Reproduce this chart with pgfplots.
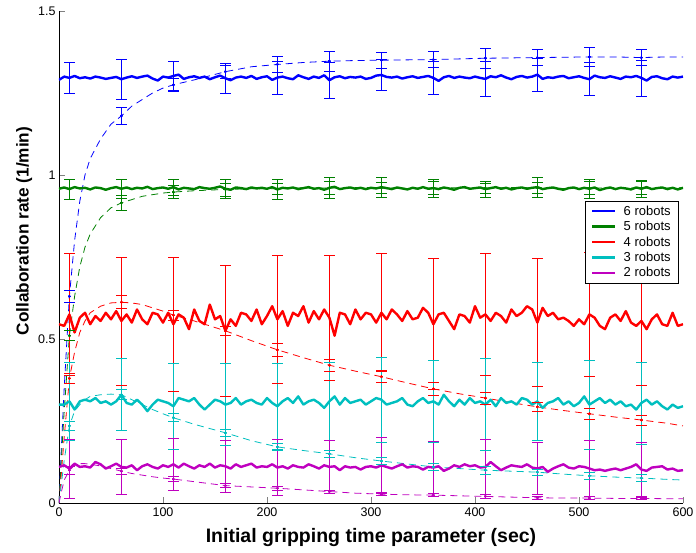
\documentclass[border=0pt]{standalone}
\usepackage{fontspec}
\setmainfont{Liberation Sans}
\usepackage{pgfplots}
\usepackage{pgfplotstable}
\pgfplotsset{compat=1.18}

\definecolor{mblue}{rgb}{0,0,1}
\definecolor{mgreen}{rgb}{0,0.5,0}
\definecolor{mred}{rgb}{1,0,0}
\definecolor{mcyan}{rgb}{0,0.75,0.75}
\definecolor{mmag}{rgb}{0.75,0,0.75}

% measured collaboration rate (solid curves), columns: 6,5,4,3,2 robots
\pgfplotstableread{
x   b     g     r     c     m
0   1.290 0.958 0.545 0.300 0.110
5   1.300 0.962 0.540 0.300 0.115
10  1.296 0.957 0.575 0.310 0.105
15  1.302 0.963 0.520 0.285 0.120
20  1.295 0.959 0.565 0.310 0.110
25  1.298 0.961 0.580 0.315 0.112
30  1.294 0.956 0.545 0.310 0.108
35  1.300 0.962 0.570 0.320 0.125
40  1.297 0.960 0.555 0.305 0.118
45  1.293 0.955 0.580 0.310 0.105
50  1.296 0.960 0.560 0.300 0.112
55  1.299 0.963 0.585 0.310 0.120
60  1.292 0.958 0.555 0.330 0.110
65  1.297 0.962 0.575 0.305 0.108
70  1.301 0.957 0.550 0.300 0.115
75  1.296 0.961 0.590 0.315 0.100
80  1.300 0.959 0.560 0.300 0.112
85  1.303 0.964 0.545 0.280 0.118
90  1.294 0.957 0.580 0.300 0.110
95  1.288 0.960 0.575 0.315 0.105
100 1.300 0.962 0.550 0.310 0.115
105 1.297 0.958 0.580 0.305 0.110
110 1.302 0.963 0.545 0.295 0.118
115 1.306 0.956 0.575 0.320 0.108
120 1.293 0.961 0.565 0.315 0.120
125 1.298 0.959 0.530 0.310 0.112
130 1.301 0.957 0.590 0.320 0.105
135 1.296 0.963 0.555 0.300 0.115
140 1.300 0.960 0.545 0.285 0.110
145 1.292 0.958 0.605 0.300 0.120
150 1.298 0.961 0.560 0.315 0.108
155 1.303 0.965 0.570 0.310 0.115
160 1.295 0.958 0.525 0.300 0.112
165 1.289 0.955 0.560 0.305 0.105
170 1.297 0.962 0.540 0.320 0.118
175 1.300 0.960 0.580 0.300 0.110
180 1.296 0.957 0.575 0.310 0.115
185 1.302 0.962 0.555 0.315 0.120
190 1.293 0.959 0.590 0.305 0.108
195 1.298 0.961 0.545 0.300 0.112
200 1.301 0.958 0.570 0.320 0.110
205 1.290 0.963 0.600 0.305 0.118
210 1.297 0.956 0.560 0.295 0.108
215 1.300 0.961 0.585 0.310 0.112
220 1.295 0.959 0.540 0.320 0.105
225 1.292 0.962 0.580 0.305 0.115
230 1.304 0.957 0.570 0.325 0.110
235 1.298 0.960 0.600 0.300 0.108
240 1.293 0.963 0.550 0.310 0.118
245 1.300 0.958 0.585 0.315 0.112
250 1.296 0.960 0.560 0.305 0.105
255 1.304 0.955 0.590 0.290 0.115
260 1.289 0.961 0.565 0.310 0.110
265 1.298 0.964 0.510 0.325 0.112
270 1.301 0.957 0.580 0.300 0.100
275 1.295 0.960 0.575 0.320 0.112
280 1.299 0.962 0.545 0.305 0.108
285 1.297 0.958 0.590 0.310 0.110
290 1.300 0.961 0.560 0.315 0.102
295 1.293 0.957 0.580 0.300 0.110
300 1.296 0.961 0.575 0.310 0.112
305 1.303 0.959 0.550 0.320 0.108
310 1.305 0.963 0.580 0.315 0.115
315 1.299 0.960 0.560 0.300 0.110
320 1.297 0.957 0.590 0.305 0.105
325 1.300 0.962 0.575 0.310 0.112
330 1.294 0.959 0.555 0.320 0.118
335 1.298 0.956 0.585 0.300 0.108
340 1.301 0.961 0.560 0.295 0.112
345 1.296 0.958 0.565 0.310 0.110
350 1.299 0.963 0.595 0.320 0.102
355 1.302 0.958 0.580 0.305 0.110
360 1.296 0.960 0.545 0.310 0.108
365 1.287 0.957 0.575 0.300 0.112
370 1.298 0.962 0.580 0.330 0.098
375 1.302 0.959 0.555 0.310 0.105
380 1.296 0.955 0.530 0.295 0.115
385 1.300 0.961 0.575 0.315 0.110
390 1.297 0.963 0.570 0.300 0.118
395 1.295 0.958 0.550 0.320 0.112
400 1.300 0.960 0.600 0.305 0.115
405 1.296 0.962 0.565 0.310 0.108
410 1.293 0.957 0.575 0.300 0.110
415 1.301 0.960 0.555 0.315 0.125
420 1.298 0.963 0.580 0.295 0.112
425 1.304 0.958 0.570 0.320 0.100
430 1.297 0.961 0.550 0.305 0.108
435 1.292 0.956 0.590 0.310 0.115
440 1.299 0.960 0.570 0.300 0.112
445 1.302 0.962 0.580 0.320 0.110
450 1.297 0.958 0.600 0.315 0.118
455 1.300 0.961 0.590 0.300 0.108
460 1.306 0.963 0.550 0.310 0.105
465 1.293 0.957 0.595 0.290 0.110
470 1.298 0.960 0.570 0.305 0.095
475 1.296 0.962 0.580 0.310 0.105
480 1.300 0.958 0.560 0.320 0.112
485 1.302 0.955 0.565 0.300 0.118
490 1.295 0.960 0.555 0.310 0.108
495 1.298 0.962 0.540 0.295 0.105
500 1.301 0.957 0.560 0.305 0.112
505 1.296 0.961 0.545 0.325 0.110
510 1.292 0.958 0.575 0.300 0.105
515 1.303 0.962 0.565 0.310 0.100
520 1.298 0.954 0.540 0.320 0.102
525 1.296 0.959 0.530 0.305 0.098
530 1.301 0.962 0.565 0.315 0.102
535 1.297 0.957 0.575 0.300 0.105
540 1.293 0.961 0.555 0.310 0.100
545 1.300 0.959 0.585 0.295 0.105
550 1.298 0.956 0.550 0.300 0.110
555 1.302 0.962 0.540 0.285 0.118
560 1.296 0.958 0.555 0.305 0.102
565 1.288 0.963 0.530 0.315 0.098
570 1.299 0.957 0.560 0.300 0.108
575 1.301 0.960 0.575 0.310 0.110
580 1.295 0.962 0.545 0.295 0.112
585 1.292 0.957 0.540 0.285 0.102
590 1.300 0.961 0.580 0.300 0.105
595 1.297 0.956 0.540 0.290 0.098
600 1.300 0.961 0.545 0.295 0.100
}\measured

% mean and standard deviation of the measured rate; each sample point is
% listed for its lower end (s=-1), its upper end (s=1) and a break (s=nan)
\pgfplotstableread{
x   s   b     be    g     ge    r     re    c     ce    m     me
10  -1  1.296 0.046 0.957 0.030 0.575 0.185 0.310 0.120 0.105 0.090
10  1   1.296 0.046 0.957 0.030 0.575 0.185 0.310 0.120 0.105 0.090
10  nan 1.296 0.046 0.957 0.030 0.575 0.185 0.310 0.120 0.105 0.090
60  -1  1.292 0.060 0.958 0.030 0.555 0.195 0.330 0.110 0.110 0.085
60  1   1.292 0.060 0.958 0.030 0.555 0.195 0.330 0.110 0.110 0.085
60  nan 1.292 0.060 0.958 0.030 0.555 0.195 0.330 0.110 0.110 0.085
110 -1  1.302 0.045 0.963 0.025 0.545 0.205 0.295 0.130 0.118 0.080
110 1   1.302 0.045 0.963 0.025 0.545 0.205 0.295 0.130 0.118 0.080
110 nan 1.302 0.045 0.963 0.025 0.545 0.205 0.295 0.130 0.118 0.080
160 -1  1.295 0.045 0.958 0.028 0.525 0.200 0.300 0.125 0.112 0.080
160 1   1.295 0.045 0.958 0.028 0.525 0.200 0.300 0.125 0.112 0.080
160 nan 1.295 0.045 0.958 0.028 0.525 0.200 0.300 0.125 0.112 0.080
210 -1  1.297 0.050 0.956 0.030 0.560 0.195 0.295 0.130 0.108 0.085
210 1   1.297 0.050 0.956 0.030 0.560 0.195 0.295 0.130 0.108 0.085
210 nan 1.297 0.050 0.956 0.030 0.560 0.195 0.295 0.130 0.108 0.085
260 -1  1.289 0.055 0.961 0.032 0.565 0.190 0.310 0.120 0.110 0.080
260 1   1.289 0.055 0.961 0.032 0.565 0.190 0.310 0.120 0.110 0.080
260 nan 1.289 0.055 0.961 0.032 0.565 0.190 0.310 0.120 0.110 0.080
310 -1  1.305 0.048 0.963 0.030 0.580 0.180 0.315 0.130 0.115 0.085
310 1   1.305 0.048 0.963 0.030 0.580 0.180 0.315 0.130 0.115 0.085
310 nan 1.305 0.048 0.963 0.030 0.580 0.180 0.315 0.130 0.115 0.085
360 -1  1.296 0.050 0.960 0.028 0.545 0.200 0.310 0.125 0.108 0.080
360 1   1.296 0.050 0.960 0.028 0.545 0.200 0.310 0.125 0.108 0.080
360 nan 1.296 0.050 0.960 0.028 0.545 0.200 0.310 0.125 0.108 0.080
410 -1  1.293 0.052 0.957 0.025 0.575 0.185 0.300 0.140 0.110 0.085
410 1   1.293 0.052 0.957 0.025 0.575 0.185 0.300 0.140 0.110 0.085
410 nan 1.293 0.052 0.957 0.025 0.575 0.185 0.300 0.140 0.110 0.085
460 -1  1.306 0.050 0.963 0.030 0.550 0.195 0.310 0.120 0.105 0.080
460 1   1.306 0.050 0.963 0.030 0.550 0.195 0.310 0.120 0.105 0.080
460 nan 1.306 0.050 0.963 0.030 0.550 0.195 0.310 0.120 0.105 0.080
510 -1  1.292 0.050 0.958 0.030 0.575 0.190 0.300 0.135 0.105 0.085
510 1   1.292 0.050 0.958 0.030 0.575 0.190 0.300 0.135 0.105 0.085
510 nan 1.292 0.050 0.958 0.030 0.575 0.190 0.300 0.135 0.105 0.085
560 -1  1.296 0.055 0.958 0.025 0.555 0.195 0.305 0.125 0.102 0.082
560 1   1.296 0.055 0.958 0.025 0.555 0.195 0.305 0.125 0.102 0.082
560 nan 1.296 0.055 0.958 0.025 0.555 0.195 0.305 0.125 0.102 0.082
}\measuredbars

% model prediction (dashed curves)
\pgfplotstableread{
x   b     g     r     c     m
0   0.000 0.000 0.000 0.000 0.000
2   0.150 0.120 0.080 0.050 0.030
5   0.350 0.280 0.200 0.130 0.070
10  0.630 0.510 0.380 0.235 0.100
15  0.800 0.630 0.460 0.280 0.115
20  0.920 0.720 0.520 0.300 0.120
25  1.000 0.780 0.555 0.315 0.120
30  1.050 0.820 0.580 0.325 0.118
40  1.110 0.870 0.600 0.330 0.113
50  1.155 0.900 0.610 0.332 0.105
60  1.180 0.915 0.612 0.330 0.097
70  1.210 0.925 0.610 0.315 0.090
80  1.230 0.935 0.605 0.300 0.085
90  1.250 0.940 0.595 0.285 0.080
100 1.265 0.945 0.585 0.272 0.076
110 1.275 0.948 0.573 0.260 0.073
130 1.290 0.952 0.555 0.240 0.065
160 1.315 0.956 0.525 0.214 0.053
185 1.330 0.958 0.495 0.190 0.049
210 1.337 0.958 0.467 0.171 0.045
235 1.343 0.961 0.443 0.160 0.040
260 1.347 0.960 0.420 0.150 0.035
285 1.349 0.962 0.402 0.138 0.030
310 1.350 0.961 0.385 0.128 0.027
335 1.351 0.959 0.366 0.119 0.025
360 1.352 0.960 0.348 0.110 0.024
385 1.354 0.961 0.333 0.105 0.022
410 1.356 0.960 0.320 0.100 0.020
435 1.357 0.962 0.306 0.097 0.018
460 1.358 0.961 0.293 0.094 0.016
485 1.359 0.959 0.282 0.088 0.015
510 1.360 0.960 0.272 0.083 0.015
535 1.360 0.961 0.262 0.079 0.014
560 1.358 0.960 0.253 0.076 0.014
585 1.360 0.960 0.243 0.072 0.013
600 1.360 0.961 0.235 0.070 0.013
}\model

% spread of the model runs, laid out as above
\pgfplotstableread{
x   s   b     be    g     ge    r     re    c     ce    m     me
10  -1  0.630 0.018 0.510 0.015 0.380 0.015 0.235 0.015 0.100 0.012
10  1   0.630 0.018 0.510 0.015 0.380 0.015 0.235 0.015 0.100 0.012
10  nan 0.630 0.018 0.510 0.015 0.380 0.015 0.235 0.015 0.100 0.012
60  -1  1.180 0.025 0.915 0.023 0.612 0.020 0.330 0.015 0.097 0.010
60  1   1.180 0.025 0.915 0.023 0.612 0.020 0.330 0.015 0.097 0.010
60  nan 1.180 0.025 0.915 0.023 0.612 0.020 0.330 0.015 0.097 0.010
110 -1  1.275 0.020 0.948 0.020 0.573 0.015 0.260 0.012 0.073 0.008
110 1   1.275 0.020 0.948 0.020 0.573 0.015 0.260 0.012 0.073 0.008
110 nan 1.275 0.020 0.948 0.020 0.573 0.015 0.260 0.012 0.073 0.008
160 -1  1.315 0.020 0.956 0.020 0.525 0.015 0.214 0.010 0.053 0.006
160 1   1.315 0.020 0.956 0.020 0.525 0.015 0.214 0.010 0.053 0.006
160 nan 1.315 0.020 0.956 0.020 0.525 0.015 0.214 0.010 0.053 0.006
210 -1  1.337 0.025 0.958 0.018 0.467 0.020 0.171 0.010 0.045 0.006
210 1   1.337 0.025 0.958 0.018 0.467 0.020 0.171 0.010 0.045 0.006
210 nan 1.337 0.025 0.958 0.018 0.467 0.020 0.171 0.010 0.045 0.006
260 -1  1.347 0.030 0.960 0.020 0.420 0.018 0.150 0.012 0.035 0.005
260 1   1.347 0.030 0.960 0.020 0.420 0.018 0.150 0.012 0.035 0.005
260 nan 1.347 0.030 0.960 0.020 0.420 0.018 0.150 0.012 0.035 0.005
310 -1  1.350 0.025 0.961 0.018 0.385 0.018 0.128 0.010 0.027 0.005
310 1   1.350 0.025 0.961 0.018 0.385 0.018 0.128 0.010 0.027 0.005
310 nan 1.350 0.025 0.961 0.018 0.385 0.018 0.128 0.010 0.027 0.005
360 -1  1.352 0.025 0.960 0.020 0.348 0.020 0.110 0.010 0.024 0.005
360 1   1.352 0.025 0.960 0.020 0.348 0.020 0.110 0.010 0.024 0.005
360 nan 1.352 0.025 0.960 0.020 0.348 0.020 0.110 0.010 0.024 0.005
410 -1  1.356 0.030 0.960 0.015 0.320 0.018 0.100 0.012 0.020 0.005
410 1   1.356 0.030 0.960 0.015 0.320 0.018 0.100 0.012 0.020 0.005
410 nan 1.356 0.030 0.960 0.015 0.320 0.018 0.100 0.012 0.020 0.005
460 -1  1.358 0.025 0.961 0.018 0.293 0.015 0.094 0.010 0.016 0.004
460 1   1.358 0.025 0.961 0.018 0.293 0.015 0.094 0.010 0.016 0.004
460 nan 1.358 0.025 0.961 0.018 0.293 0.015 0.094 0.010 0.016 0.004
510 -1  1.360 0.030 0.960 0.020 0.272 0.018 0.083 0.010 0.015 0.004
510 1   1.360 0.030 0.960 0.020 0.272 0.018 0.083 0.010 0.015 0.004
510 nan 1.360 0.030 0.960 0.020 0.272 0.018 0.083 0.010 0.015 0.004
560 -1  1.358 0.025 0.960 0.020 0.253 0.015 0.076 0.010 0.014 0.004
560 1   1.358 0.025 0.960 0.020 0.253 0.015 0.076 0.010 0.014 0.004
560 nan 1.358 0.025 0.960 0.020 0.253 0.015 0.076 0.010 0.014 0.004
}\modelbars

\pgfplotsset{
  modelline/.style={line width=0.8pt, dash pattern=on 7pt off 5pt, forget plot},
  measline/.style={line width=2.4pt, line join=round},
  capmark/.style={only marks, forget plot, mark=-, mark size=5.5pt,
    mark options={solid, line width=0.7pt}, unbounded coords=discard},
}

% one set of error bars: colour, table, value column, deviation column
\newcommand{\errbars}[4]{%
  \addplot[#1, forget plot, solid, line width=0.7pt, unbounded coords=jump]
    table[x=x, y expr=\thisrow{#3}+\thisrow{s}*\thisrow{#4}] {#2};
  \addplot[#1, capmark]
    table[x=x, y expr=\thisrow{#3}+\thisrow{s}*\thisrow{#4}] {#2};
}

\begin{document}
\begin{tikzpicture}
\begin{axis}[
  scale only axis,
  width=624pt, height=492pt,
  xmin=0, xmax=600, ymin=0, ymax=1.5,
  axis x line*=bottom, axis y line*=left,
  axis line style={line width=0.8pt, -},
  tick align=inside,
  major tick length=6pt,
  tick style={line width=0.8pt},
  xtick={0,100,...,600},
  ytick={0,0.5,1,1.5},
  yticklabels={0,0.5,1,1.5},
  /pgf/number format/assume math mode=true,
  tick label style={font=\fontsize{12.5}{14}\selectfont},
  xticklabel style={yshift=-1pt},
  xlabel={Initial gripping time parameter (sec)},
  ylabel={Collaboration rate (1/min)},
  xlabel style={font=\fontsize{19.5}{22}\selectfont\bfseries,
    at={(rel axis cs:0.5,0)}, anchor=north, inner sep=0pt, yshift=-25pt},
  ylabel style={font=\fontsize{17.2}{20}\selectfont\bfseries,
    at={(rel axis cs:-0.056,0.553)}, anchor=center, inner sep=0pt},
  legend style={at={(rel axis cs:0.9936,0.614)}, anchor=north east,
    draw=black, line width=0.7pt, fill=white,
    font=\fontsize{13}{15}\selectfont,
    inner xsep=6pt, inner ysep=2.5pt, row sep=0.5pt, column sep=5pt,
    nodes={inner sep=2pt, text depth=0.15em},
    cells={anchor=west}},
  legend image code/.code={\draw[#1, line width=2.4pt, solid] (0pt,0pt) -- (23pt,0pt);},
]
\coordinate (ll) at (rel axis cs:0,0);
\coordinate (ur) at (rel axis cs:1,1);

% model curves
\addplot[mblue, modelline] table[x=x, y=b] {\model};
\addplot[mgreen, modelline] table[x=x, y=g] {\model};
\addplot[mred, modelline] table[x=x, y=r] {\model};
\addplot[mcyan, modelline] table[x=x, y=c] {\model};
\addplot[mmag, modelline] table[x=x, y=m] {\model};

% model error bars with centre dots
\errbars{mblue}{\modelbars}{b}{be}
\errbars{mgreen}{\modelbars}{g}{ge}
\errbars{mred}{\modelbars}{r}{re}
\errbars{mcyan}{\modelbars}{c}{ce}
\errbars{mmag}{\modelbars}{m}{me}
\addplot[mblue, only marks, forget plot, mark=*, mark size=1.1pt] table[x=x, y=b] {\modelbars};
\addplot[mgreen, only marks, forget plot, mark=*, mark size=1.1pt] table[x=x, y=g] {\modelbars};
\addplot[mred, only marks, forget plot, mark=*, mark size=1.1pt] table[x=x, y=r] {\modelbars};
\addplot[mcyan, only marks, forget plot, mark=*, mark size=1.1pt] table[x=x, y=c] {\modelbars};
\addplot[mmag, only marks, forget plot, mark=*, mark size=1.1pt] table[x=x, y=m] {\modelbars};

% measured error bars
\errbars{mblue}{\measuredbars}{b}{be}
\errbars{mgreen}{\measuredbars}{g}{ge}
\errbars{mred}{\measuredbars}{r}{re}
\errbars{mcyan}{\measuredbars}{c}{ce}
\errbars{mmag}{\measuredbars}{m}{me}

% measured curves
\addplot[mblue, measline] table[x=x, y=b] {\measured};
\addlegendentry{6 robots}
\addplot[mgreen, measline] table[x=x, y=g] {\measured};
\addlegendentry{5 robots}
\addplot[mred, measline] table[x=x, y=r] {\measured};
\addlegendentry{4 robots}
\addplot[mcyan, measline] table[x=x, y=c] {\measured};
\addlegendentry{3 robots}
\addplot[mmag, measline] table[x=x, y=m] {\measured};
\addlegendentry{2 robots}
\end{axis}
\pgfresetboundingbox
\path (ll) ++(-59pt,-49pt) rectangle ([shift={(13pt,11pt)}]ur);
\end{tikzpicture}
\end{document}
